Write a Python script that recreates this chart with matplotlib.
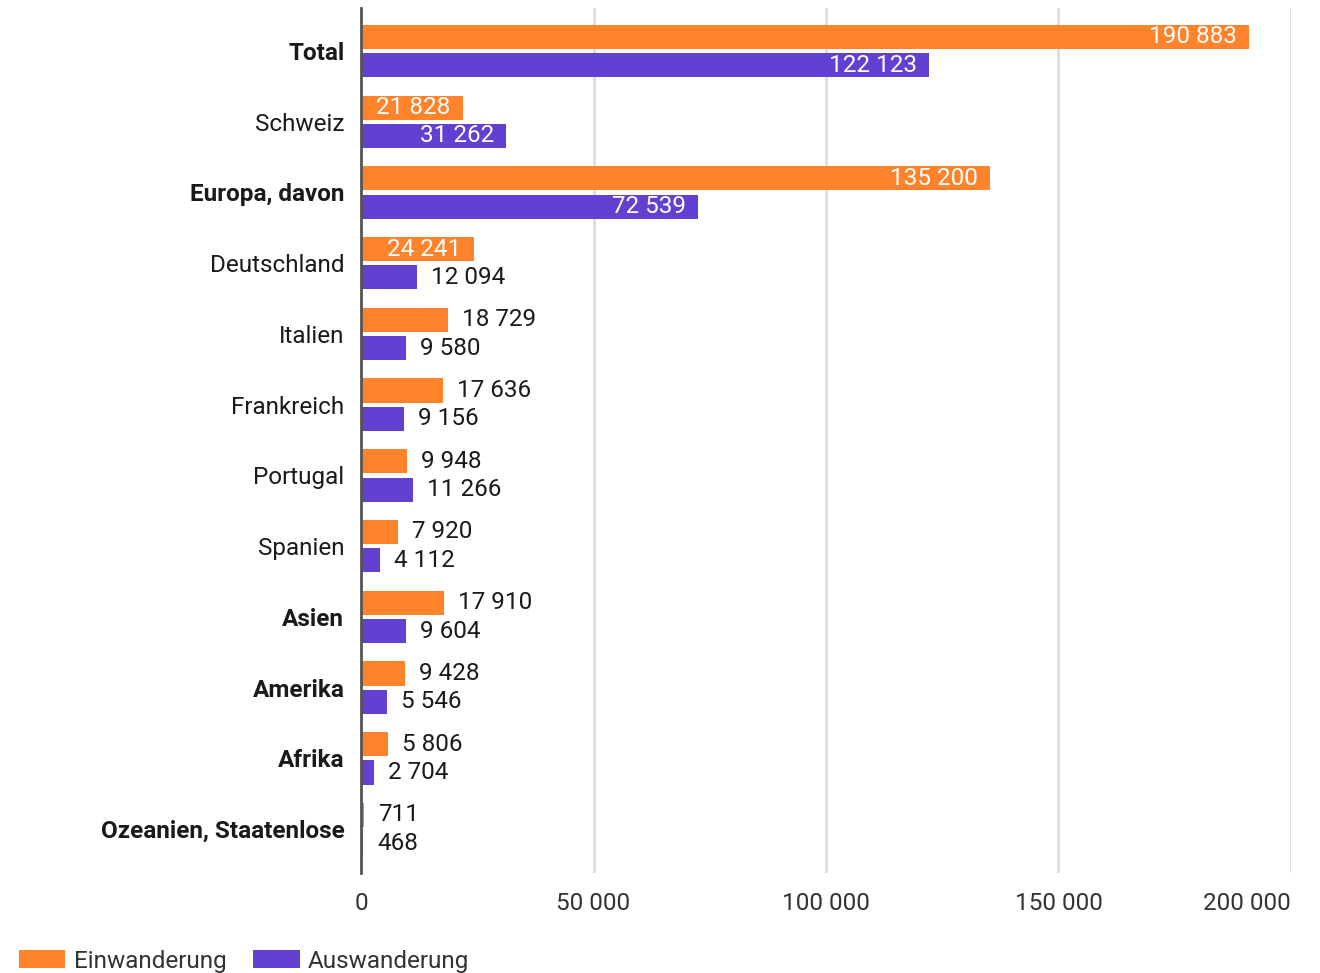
import matplotlib.pyplot as plt
import matplotlib.ticker as mticker
import numpy as np

plt.rcParams['font.family'] = ['Roboto', 'DejaVu Sans']

# data
categories = ["Total", "Schweiz", "Europa, davon", "Deutschland", "Italien",
              "Frankreich", "Portugal", "Spanien", "Asien", "Amerika",
              "Afrika", "Ozeanien, Staatenlose"]
bold_cats = ["Total", "Europa, davon", "Asien", "Amerika", "Afrika",
             "Ozeanien, Staatenlose"]
einwanderung = [190883, 21828, 135200, 24241, 18729, 17636, 9948, 7920,
                17910, 9428, 5806, 711]
auswanderung = [122123, 31262, 72539, 12094, 9580, 9156, 11266, 4112,
                9604, 5546, 2704, 468]
xticks = [0, 50000, 100000, 150000, 200000]

c_ein = "#FF832B"
c_aus = "#6240D2"
txt = "#1a1a1a"
fs = 17.5

fig = plt.figure(figsize=(13.2, 9.73), dpi=100)
ax = fig.add_axes([0.2735, 0.1028, 0.7045, 0.8892])

y = np.arange(len(categories))
off = 0.2
h = 0.34
ax.barh(y - off, einwanderung, height=h, color=c_ein, label="Einwanderung", zorder=3)
ax.barh(y + off, auswanderung, height=h, color=c_aus, label="Auswanderung", zorder=3)


def fmt(v):
    return f"{v:,}".replace(",", " ")


def put_labels(vals, ypos):
    for v, yy in zip(vals, ypos):
        if v >= 20000:
            ax.annotate(fmt(v), (v, yy), xytext=(-12, 0), textcoords="offset pixels",
                        ha="right", va="center", color="white", fontsize=fs, zorder=4)
        else:
            ax.annotate(fmt(v), (v, yy), xytext=(14, 0), textcoords="offset pixels",
                        ha="left", va="center", color=txt, fontsize=fs, zorder=4)


put_labels(einwanderung, y - off)
put_labels(auswanderung, y + off)

ax.set_xlim(0, 200000)
ax.set_ylim(len(categories) - 1 + 0.62, -0.61)
ax.set_yticks(y)
ax.set_yticklabels(categories, fontsize=fs, color=txt)
for lab in ax.get_yticklabels():
    if lab.get_text() in bold_cats:
        lab.set_fontweight("bold")
ax.set_xticks(xticks)
ax.xaxis.set_major_formatter(mticker.FuncFormatter(lambda v, p: fmt(int(v))))
for lab in ax.get_xticklabels():
    lab.set_fontsize(fs)
    lab.set_color("#333333")
ax.get_xticklabels()[-1].set_horizontalalignment("right")

ax.tick_params(axis="both", length=0)
ax.tick_params(axis="x", pad=14)
ax.tick_params(axis="y", pad=12)
ax.grid(axis="x", color="#dddddd", linewidth=2, zorder=0)
for s in ["top", "right", "bottom"]:
    ax.spines[s].set_visible(False)
ax.spines["left"].set_color("#555555")
ax.spines["left"].set_linewidth(2)
ax.spines["left"].set_zorder(5)

fig.legend(loc="lower left", bbox_to_anchor=(-0.002, -0.022), ncol=2, frameon=False,
           fontsize=fs, handlelength=1.9, handleheight=0.8, handletextpad=0.35,
           columnspacing=1.1, labelcolor="#333333")

fig.savefig("out.png", dpi=100)
